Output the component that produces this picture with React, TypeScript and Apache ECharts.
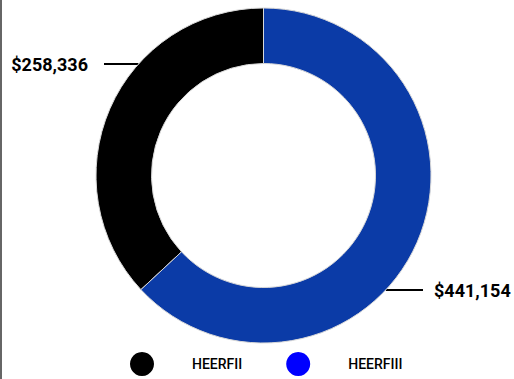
import React, { useEffect, useRef } from "react";
import * as echarts from "echarts";

const categories = ["HEERFII", "HEERFIII"];
const values = [258336, 441154];
const sliceColors = ["#000000", "#0b3ba7"];
const legendColors = ["#000000", "#0000ff"];

const FONT = "Roboto, 'Liberation Sans', sans-serif";

export default function App() {
  const ref = useRef<HTMLDivElement>(null);
  useEffect(() => {
    const chart = echarts.init(ref.current!, null, { renderer: "svg" });
    const cx = 263.5, cy = 175.5, r0 = 112, r1 = 167.5;
    const labelYs = [64, 290];
    const lineEnds = [104, 423];
    const textX = [88, 434];
    const fmt = (v: number) => "$" + v.toLocaleString("en-US");
    chart.setOption({
      animation: false,
      graphic: [
        { type: "rect", shape: { x: 0, y: 0, width: 2, height: 379 }, style: { fill: "#666666" }, silent: true },
      ],
      legend: {
        left: 130,
        top: 352,
        padding: 0,
        orient: "horizontal",
        icon: "circle",
        itemWidth: 24,
        itemHeight: 24,
        itemGap: 44,
        itemStyle: { borderWidth: 0 },
        textStyle: { fontFamily: FONT, fontSize: 14, fontWeight: 500, color: "#000", padding: [0, 0, 0, 33] },
        data: categories.map((n, i) => ({ name: n, itemStyle: { color: legendColors[i], borderWidth: 0 } })),
      },
      series: [
        {
          type: "pie",
          center: [cx, cy],
          radius: [r0, r1],
          clockwise: false,
          startAngle: 90,
          data: categories.map((n, i) => ({ name: n, value: values[i], itemStyle: { color: sliceColors[i] } })),
          itemStyle: { borderColor: "#d8d8d8", borderWidth: 1 },
          label: {
            show: true,
            formatter: (p: any) => fmt(p.value),
            fontFamily: FONT,
            fontWeight: "bold",
            fontSize: 18,
            color: "#000",
            overflow: "none",
            alignTo: "none",
          },
          labelLine: { show: true, lineStyle: { color: "#000", width: 2 } },
          emphasis: { disabled: true },
          labelLayout: (p: any) => {
            const i = p.dataIndex;
            const y = labelYs[i];
            const dx = Math.sqrt(r1 * r1 - (y - cy) * (y - cy));
            const ringX = i === 0 ? cx - dx : cx + dx;
            const end = lineEnds[i];
            return {
              x: textX[i],
              y,
              align: i === 0 ? "right" : "left",
              verticalAlign: "middle",
              labelLinePoints: [
                [ringX, y],
                [(ringX + end) / 2, y],
                [end, y],
              ],
            };
          },
        },
      ],
    });
    return () => chart.dispose();
  }, []);
  return (
    <div
      ref={ref}
      style={{ position: "absolute", left: 0, top: 0, width: 514, height: 379, background: "#fff" }}
    />
  );
}
